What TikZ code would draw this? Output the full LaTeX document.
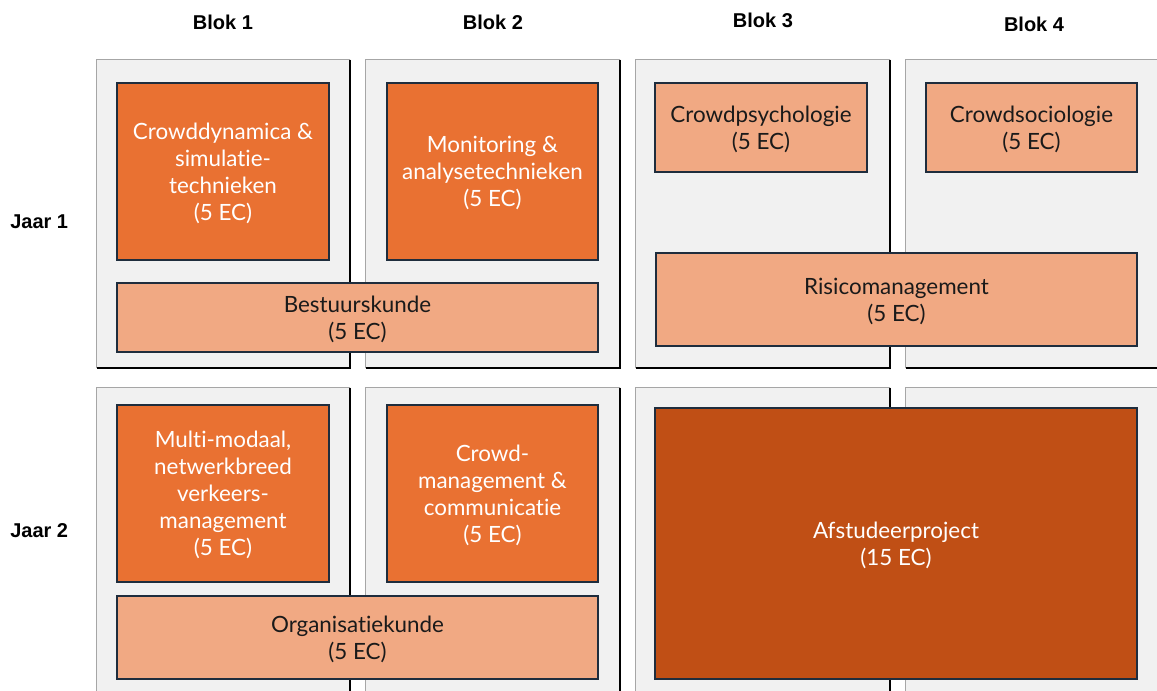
\documentclass[tikz,border=0pt]{standalone}
\usepackage{fontspec}
\setmainfont{Lato}[Ligatures=NoCommon]
\newfontfamily\headfont{Liberation Sans}
\usetikzlibrary{fit}
\definecolor{panelgray}{HTML}{F1F1F1}
\definecolor{panelline}{HTML}{A6A6A6}
\definecolor{midorange}{HTML}{E97132}
\definecolor{lightorange}{HTML}{F1A983}
\definecolor{darkorange}{HTML}{C04F15}
\definecolor{edgeblue}{HTML}{1F2D3D}
\definecolor{txtdark}{HTML}{1A1A1A}
\tikzset{
  panel/.style={fill=panelgray, draw=none, inner sep=0pt},
  course/.style={draw=edgeblue, line width=1.1pt, inner sep=0pt, align=center,
    font=\fontsize{16.8}{20.25}\selectfont},
  midcourse/.style={course, fill=midorange, text=white},
  lightcourse/.style={course, fill=lightorange, text=txtdark},
  darkcourse/.style={course, fill=darkorange, text=white},
  head/.style={font=\headfont\bfseries\fontsize{15}{17}\selectfont, text=black, inner sep=0pt},
  litedge/.style={draw=panelline, line width=1pt},
  shadeedge/.style={draw=black, line width=1.7pt},
}
\newcommand\panelframe[1]{%
  \draw[litedge] (#1.south west) |- (#1.north east);
  \draw[shadeedge] (#1.north east) |- (#1.south west);}
% course box: style, name, x1, y1, x2, y2, text (pixel coordinates)
\newcommand\coursebox[7]{%
  \node[#1, minimum width={(#5-#3)*0.75pt}, minimum height={(#6-#4)*0.75pt}]
    (#2) at ({(#3+#5)/2},{(#4+#6)/2}) {\raisebox{-2.2pt}[\height][\depth]{\begin{tabular}{@{}c@{}}#7\end{tabular}}};}
\begin{document}
\begin{tikzpicture}[x=0.75pt,y=-0.75pt]
\useasboundingbox (0,0) rectangle (1157,691);
\clip (0,0) rectangle (1157,691);
% headers
\node[head] (b1) at (223,22) {Blok 1};
\node[head] (b2) at (493,22) {Blok 2};
\node[head] (b3) at (763,20) {Blok 3};
\node[head] (b4) at (1034,24) {Blok 4};
\node[head, anchor=west] (j1) at (10,222) {Jaar 1};
\node[head, anchor=west] (j2) at (10,531) {Jaar 2};
% panels
\node[panel, fit={(97,60) (350,368)}] (p11) {};
\node[panel, fit={(366,60) (620,368)}] (p12) {};
\node[panel, fit={(636,60) (890,368)}] (p13) {};
\node[panel, fit={(906,60) (1180,368)}] (p14) {};
\node[panel, fit={(97,388) (350,710)}] (p21) {};
\node[panel, fit={(366,388) (620,710)}] (p22) {};
\node[panel, fit={(636,388) (890,710)}] (p23) {};
\node[panel, fit={(906,388) (1180,710)}] (p24) {};
\panelframe{p11}\panelframe{p12}\panelframe{p13}\panelframe{p14}
\panelframe{p21}\panelframe{p22}\panelframe{p23}\panelframe{p24}
% year 1 courses
\coursebox{midcourse}{cd}{117}{83}{329}{260}{Crowddynamica \&\\simulatie-\\technieken\\(5 EC)}
\coursebox{midcourse}{ma}{387}{83}{598}{260}{Monitoring \&\\analysetechnieken\\(5 EC)}
\coursebox{lightcourse}{bk}{117}{283}{598}{352}{Bestuurskunde\\(5 EC)}
\coursebox{lightcourse}{cp}{655}{83}{867}{172}{Crowdpsychologie\\(5 EC)}
\coursebox{lightcourse}{cs}{926}{83}{1137}{172}{Crowdsociologie\\(5 EC)}
\coursebox{lightcourse}{rm}{656}{253}{1137}{346}{Risicomanagement\\(5 EC)}
% year 2 courses
\coursebox{midcourse}{mm}{117}{405}{329}{582}{Multi-modaal,\\netwerkbreed\\verkeers-\\management\\(5 EC)}
\coursebox{midcourse}{cm}{387}{405}{598}{582}{Crowd-\\management \&\\communicatie\\(5 EC)}
\coursebox{lightcourse}{ok}{117}{596}{598}{679}{Organisatiekunde\\(5 EC)}
\coursebox{darkcourse}{ap}{655}{408}{1137}{679}{Afstudeerproject\\(15 EC)}
\end{tikzpicture}
\end{document}
